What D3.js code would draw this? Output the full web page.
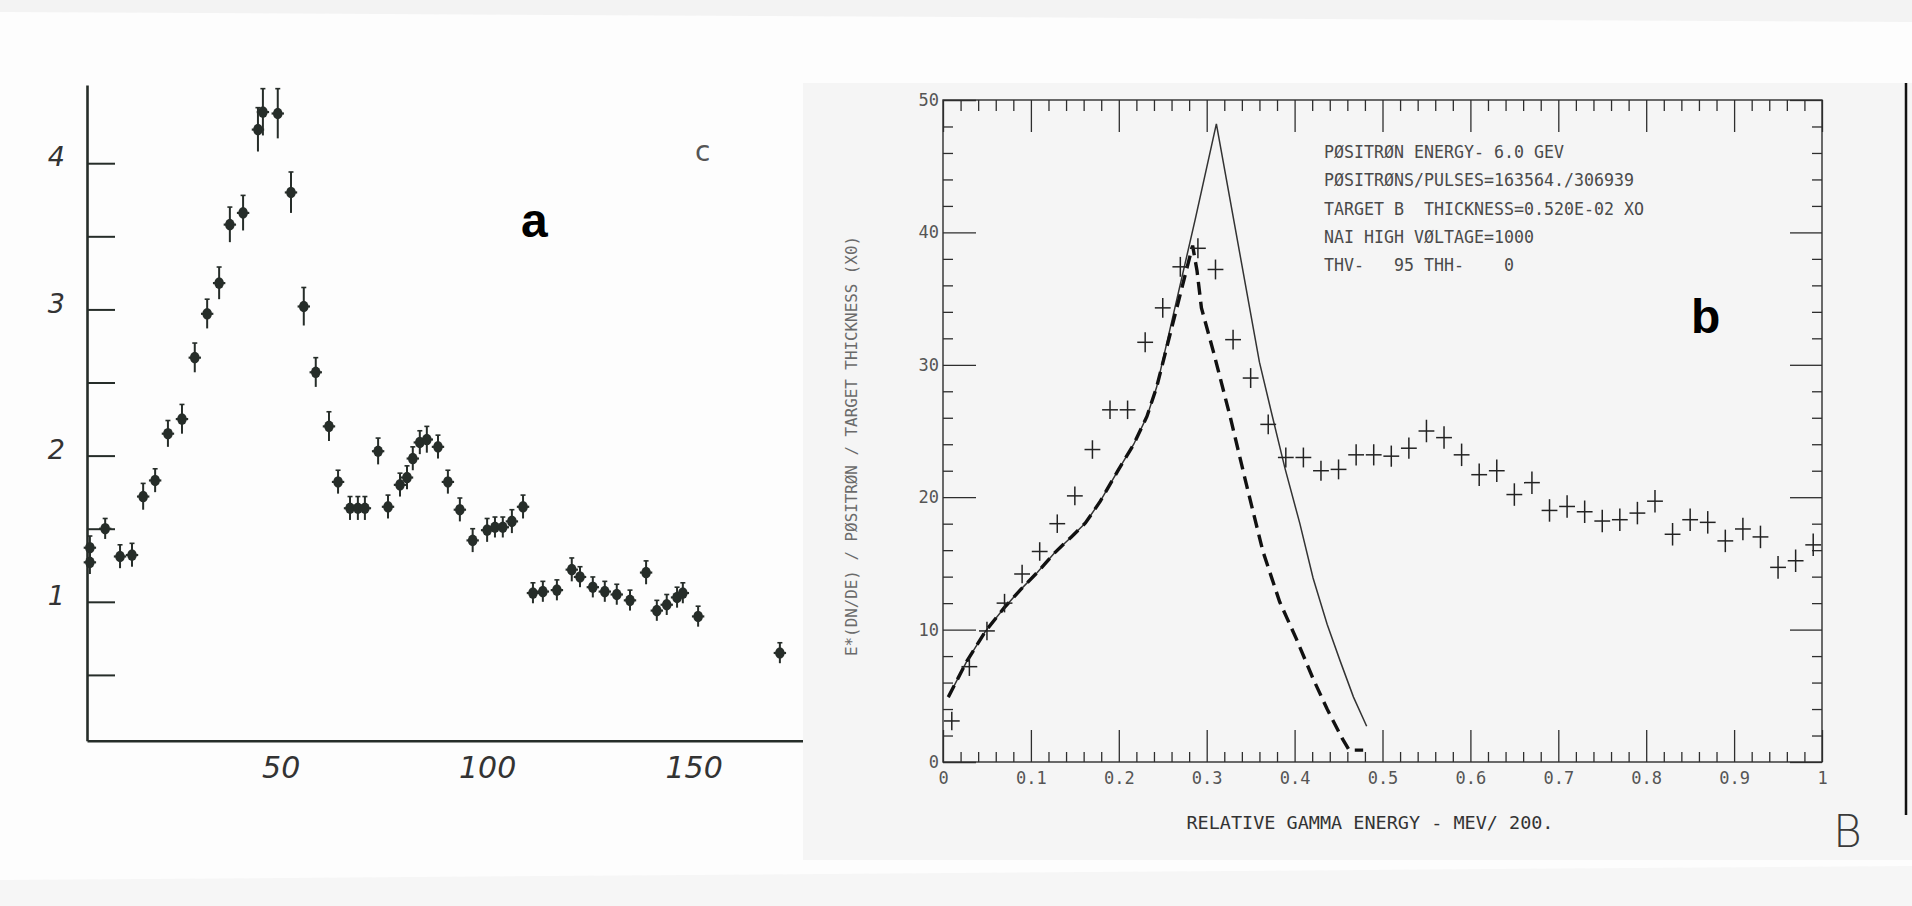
<!DOCTYPE html>
<html>
<head>
<meta charset="utf-8">
<script src="https://cdn.jsdelivr.net/npm/d3@7"></script>
<style>
  body { margin: 0; background: #fdfdfd; }
  svg { display: block; }
</style>
</head>
<body>
<svg id="chart" width="1912" height="906"></svg>
<script>
'use strict'

// panel a : counts vs channel (scanned figure), points with error bars
var aX = [2.7, 2.7, 6.4, 10.0, 12.9, 15.6, 18.5, 21.6, 25.0, 28.1, 31.1, 34.0, 36.6, 39.8, 43.4, 44.6, 48.2, 51.4, 54.5, 57.4,
          60.6, 62.8, 65.7, 67.6, 69.3, 72.5, 74.9, 77.8, 79.5, 80.9, 82.6, 84.3, 87.0, 89.4, 92.3, 95.4, 98.9, 100.8, 102.7, 104.9,
          107.6, 110.0, 112.4, 115.8, 119.4, 121.4, 124.5, 127.4, 130.3, 133.5, 137.4, 140.0, 142.4, 144.9, 146.3, 150.0, 169.8];
var aY = [1.37, 1.27, 1.50, 1.31, 1.32, 1.72, 1.83, 2.15, 2.25, 2.67, 2.97, 3.18, 3.58, 3.66, 4.23, 4.35, 4.34, 3.80, 3.02, 2.57,
          2.20, 1.82, 1.64, 1.64, 1.64, 2.03, 1.65, 1.80, 1.85, 1.98, 2.09, 2.11, 2.06, 1.82, 1.63, 1.42, 1.49, 1.51, 1.51, 1.55,
          1.65, 1.06, 1.07, 1.08, 1.22, 1.17, 1.10, 1.07, 1.05, 1.01, 1.20, 0.94, 0.98, 1.03, 1.06, 0.90, 0.65];
var aErr = [0.08, 0.08, 0.07, 0.08, 0.08, 0.09, 0.08, 0.09, 0.10, 0.10, 0.10, 0.11, 0.12, 0.12, 0.15, 0.16, 0.17, 0.14, 0.13, 0.10,
            0.10, 0.08, 0.08, 0.08, 0.08, 0.09, 0.08, 0.08, 0.08, 0.08, 0.08, 0.09, 0.08, 0.08, 0.08, 0.08, 0.08, 0.07, 0.07, 0.08,
            0.08, 0.07, 0.07, 0.07, 0.08, 0.07, 0.07, 0.07, 0.07, 0.07, 0.08, 0.07, 0.07, 0.07, 0.07, 0.07, 0.07];
var aYTicks = [0.5, 1, 1.5, 2, 2.5, 3, 3.5, 4];
var aYLabels = [1, 2, 3, 4];
var aXLabels = [50, 100, 150];

// panel b : E*(dN/dE) vs relative gamma energy
var bX = [0.01, 0.03, 0.05, 0.07, 0.09, 0.11, 0.13, 0.15, 0.17, 0.19, 0.21, 0.23, 0.25, 0.27, 0.29, 0.31, 0.33, 0.35, 0.37, 0.39,
          0.41, 0.43, 0.45, 0.47, 0.49, 0.51, 0.53, 0.55, 0.57, 0.59, 0.61, 0.63, 0.65, 0.67, 0.69, 0.71, 0.73, 0.75, 0.77, 0.79,
          0.81, 0.83, 0.85, 0.87, 0.89, 0.91, 0.93, 0.95, 0.97, 0.99];
var bY = [3.1, 7.2, 9.9, 12.0, 14.2, 15.9, 18.0, 20.1, 23.6, 26.6, 26.6, 31.7, 34.3, 37.4, 38.8, 37.2, 31.9, 29.0, 25.5, 23.0,
          23.0, 22.0, 22.1, 23.2, 23.2, 23.1, 23.7, 25.0, 24.5, 23.2, 21.7, 22.0, 20.2, 21.1, 19.0, 19.3, 18.9, 18.2, 18.3, 18.8,
          19.7, 17.2, 18.3, 18.1, 16.7, 17.6, 17.0, 14.7, 15.2, 16.4];
var bErr = [0.7, 0.7, 0.7, 0.7, 0.7, 0.7, 0.7, 0.7, 0.7, 0.7, 0.7, 0.75, 0.75, 0.75, 0.75, 0.75, 0.75, 0.75, 0.75, 0.75,
            0.75, 0.75, 0.75, 0.8, 0.8, 0.8, 0.8, 0.85, 0.85, 0.85, 0.85, 0.85, 0.85, 0.85, 0.85, 0.85, 0.85, 0.85, 0.85, 0.85,
            0.85, 0.85, 0.85, 0.85, 0.85, 0.85, 0.85, 0.85, 0.85, 0.85];
var solidX = [0.006, 0.027, 0.048, 0.069, 0.088, 0.107, 0.127, 0.146, 0.162, 0.179, 0.199, 0.217, 0.232, 0.243, 0.287, 0.311,
              0.360, 0.374, 0.389, 0.406, 0.421, 0.437, 0.452, 0.467, 0.482];
var solidY = [4.9, 7.6, 9.85, 11.6, 13.0, 14.3, 15.8, 17.0, 18.05, 19.7, 22.0, 24.0, 26.1, 28.3, 41.0, 48.2,
              30.2, 26.3, 22.2, 18.0, 13.9, 10.4, 7.6, 4.9, 2.7];
var dashX = [0.006, 0.027, 0.048, 0.069, 0.088, 0.107, 0.127, 0.146, 0.162, 0.179, 0.199, 0.217, 0.232, 0.243, 0.284,
             0.289, 0.294, 0.308, 0.327, 0.345, 0.364, 0.383, 0.402, 0.421, 0.437, 0.454, 0.462, 0.478];
var dashY = [4.9, 7.6, 9.85, 11.6, 13.0, 14.3, 15.8, 17.0, 18.05, 19.7, 22.0, 24.0, 26.1, 28.3, 39.0,
             37.1, 34.3, 30.9, 26.0, 21.0, 15.9, 12.1, 9.3, 6.3, 4.0, 1.8, 0.9, 0.9];
var bXMajor = [0, 0.1, 0.2, 0.3, 0.4, 0.5, 0.6, 0.7, 0.8, 0.9, 1];
var bXMinor = [0.02, 0.04, 0.06, 0.08, 0.12, 0.14, 0.16, 0.18, 0.22, 0.24, 0.26, 0.28, 0.32, 0.34, 0.36, 0.38,
               0.42, 0.44, 0.46, 0.48, 0.52, 0.54, 0.56, 0.58, 0.62, 0.64, 0.66, 0.68, 0.72, 0.74, 0.76, 0.78,
               0.82, 0.84, 0.86, 0.88, 0.92, 0.94, 0.96, 0.98];
var bYMajor = [0, 10, 20, 30, 40, 50];
var bYMinor = [2, 4, 6, 8, 12, 14, 16, 18, 22, 24, 26, 28, 32, 34, 36, 38, 42, 44, 46, 48];
var infoLines = [
  'PØSITRØN ENERGY- 6.0 GEV',
  'PØSITRØNS/PULSES=163564./306939',
  'TARGET B  THICKNESS=0.520E-02 XO',
  'NAI HIGH VØLTAGE=1000',
  'THV-   95 THH-    0'
];

var mono = 'DejaVu Sans Mono, monospace';
var svg = d3.select('#chart');

// paper background
svg.append('path').attr('d', 'M0,0H1912V22L0,12Z').attr('fill', '#f3f3f3');
svg.append('path').attr('d', 'M0,880L1912,866V906H0Z').attr('fill', '#f6f6f6');

/* ---------------- panel a ---------------- */
var xA = d3.scaleLinear().domain([2, 175.4]).range([87, 803]);
var yA = d3.scaleLinear().domain([0.05, 4.535]).range([740.7, 85]);
var gA = svg.append('g').attr('class', 'panel-a');
var ink = '#262d29';

var axA = gA.append('g')
  .attr('transform', 'translate(' + xA(2) + ',0)')
  .call(d3.axisLeft(yA)
    .tickValues(aYTicks)
    .tickSize(-28)
    .tickSizeOuter(0)
    .tickPadding(22)
    .tickFormat(function(d){
      return aYLabels.indexOf(d) >= 0 ? d : '';
    }));
axA.select('.domain').attr('stroke', ink).attr('stroke-width', 2.6);
axA.selectAll('.tick line').attr('stroke', ink).attr('stroke-width', 2);
axA.selectAll('.tick text')
  .attr('font-family', 'DejaVu Sans, sans-serif')
  .attr('font-style', 'italic')
  .attr('font-size', 27)
  .attr('fill', '#333')
  .attr('dy', '0.1em');

var axAx = gA.append('g')
  .attr('transform', 'translate(0,' + yA(0.05) + ')')
  .call(d3.axisBottom(xA)
    .tickValues(aXLabels)
    .tickSize(0)
    .tickSizeOuter(0)
    .tickPadding(16));
axAx.select('.domain').attr('stroke', ink).attr('stroke-width', 2.6);
axAx.selectAll('.tick text')
  .attr('font-family', 'DejaVu Sans, sans-serif')
  .attr('font-style', 'italic')
  .attr('font-size', 30)
  .attr('fill', '#333')
  .attr('dx', '-0.15em');

var ptsA = aX.map(function(x, i){
  return { x: x, y: aY[i], e: aErr[i] };
});

var pa = gA.selectAll('g.pt')
  .data(ptsA)
  .enter()
  .append('g')
  .attr('class', 'pt');
pa.append('line')
  .attr('x1', function(d){ return xA(d.x); })
  .attr('x2', function(d){ return xA(d.x); })
  .attr('y1', function(d){ return yA(d.y - d.e); })
  .attr('y2', function(d){ return yA(d.y + d.e); })
  .attr('stroke', ink)
  .attr('stroke-width', 2);
pa.append('line')
  .attr('x1', function(d){ return xA(d.x) - 2.5; })
  .attr('x2', function(d){ return xA(d.x) + 2.5; })
  .attr('y1', function(d){ return yA(d.y + d.e); })
  .attr('y2', function(d){ return yA(d.y + d.e); })
  .attr('stroke', ink)
  .attr('stroke-width', 1.6);
pa.append('line')
  .attr('x1', function(d){ return xA(d.x - 1.5); })
  .attr('x2', function(d){ return xA(d.x + 1.5); })
  .attr('y1', function(d){ return yA(d.y); })
  .attr('y2', function(d){ return yA(d.y); })
  .attr('stroke', ink)
  .attr('stroke-width', 2.2);
pa.append('ellipse')
  .attr('cx', function(d){ return xA(d.x); })
  .attr('cy', function(d){ return yA(d.y); })
  .attr('rx', 4.8)
  .attr('ry', 5.8)
  .attr('fill', ink);

gA.append('text')
  .attr('x', 521).attr('y', 237)
  .attr('font-family', 'Liberation Sans, Arial, sans-serif')
  .attr('font-weight', 'bold')
  .attr('font-size', 48)
  .attr('fill', '#000')
  .text('a');
gA.append('text')
  .attr('x', 695).attr('y', 161)
  .attr('font-family', 'DejaVu Sans, sans-serif')
  .attr('font-size', 28)
  .attr('fill', '#555')
  .text('c');

/* ---------------- panel b ---------------- */
var xB = d3.scaleLinear().domain([0, 1]).range([943, 1822]);
var yB = d3.scaleLinear().domain([0, 50]).range([762, 100]);
var gB = svg.append('g').attr('class', 'panel-b');
var pen = '#2e2e2e';

gB.append('rect')
  .attr('x', 803).attr('y', 83)
  .attr('width', 1109).attr('height', 777)
  .attr('fill', '#f5f5f5');

function styleB(g){
  g.select('.domain').remove();
  g.selectAll('.tick line').attr('stroke', pen).attr('stroke-width', 1.3);
  g.selectAll('.tick text')
    .attr('font-family', mono)
    .attr('font-size', 17)
    .attr('fill', '#555');
}

var fmtB = function(d){
  if( d == 0 ) return '0';
  if( d == 1 ) return '1';
  return d.toFixed(1);
};

gB.append('g').attr('transform', 'translate(0,' + yB(0) + ')')
  .call(d3.axisBottom(xB).tickValues(bXMajor).tickSize(-32).tickSizeOuter(0).tickPadding(10).tickFormat(fmtB))
  .call(styleB);
gB.append('g').attr('transform', 'translate(0,' + yB(0) + ')')
  .call(d3.axisBottom(xB).tickValues(bXMinor).tickSize(-10).tickSizeOuter(0).tickFormat(''))
  .call(styleB);
gB.append('g').attr('transform', 'translate(0,' + yB(50) + ')')
  .call(d3.axisTop(xB).tickValues(bXMajor).tickSize(-32).tickSizeOuter(0).tickFormat(''))
  .call(styleB);
gB.append('g').attr('transform', 'translate(0,' + yB(50) + ')')
  .call(d3.axisTop(xB).tickValues(bXMinor).tickSize(-11).tickSizeOuter(0).tickFormat(''))
  .call(styleB);
gB.append('g').attr('transform', 'translate(' + xB(0) + ',0)')
  .call(d3.axisLeft(yB).tickValues(bYMajor).tickSize(-33).tickSizeOuter(0).tickPadding(4))
  .call(styleB);
gB.append('g').attr('transform', 'translate(' + xB(0) + ',0)')
  .call(d3.axisLeft(yB).tickValues(bYMinor).tickSize(-10).tickSizeOuter(0).tickFormat(''))
  .call(styleB);
gB.append('g').attr('transform', 'translate(' + xB(1) + ',0)')
  .call(d3.axisRight(yB).tickValues(bYMajor).tickSize(-32).tickSizeOuter(0).tickFormat(''))
  .call(styleB);
gB.append('g').attr('transform', 'translate(' + xB(1) + ',0)')
  .call(d3.axisRight(yB).tickValues(bYMinor).tickSize(-10).tickSizeOuter(0).tickFormat(''))
  .call(styleB);

gB.append('rect')
  .attr('x', xB(0)).attr('y', yB(50))
  .attr('width', xB(1) - xB(0)).attr('height', yB(0) - yB(50))
  .attr('fill', 'none')
  .attr('stroke', pen)
  .attr('stroke-width', 1.4);

var line = d3.line()
  .x(function(d){ return xB(d[0]); })
  .y(function(d){ return yB(d[1]); });

gB.append('path')
  .datum(solidX.map(function(x, i){ return [x, solidY[i]]; }))
  .attr('d', line)
  .attr('fill', 'none')
  .attr('stroke', '#333')
  .attr('stroke-width', 1.5);
gB.append('path')
  .datum(dashX.map(function(x, i){ return [x, dashY[i]]; }))
  .attr('d', line)
  .attr('fill', 'none')
  .attr('stroke', '#111')
  .attr('stroke-width', 3.4)
  .attr('stroke-dasharray', '13,7');

var ptsB = bX.map(function(x, i){
  return { x: x, y: bY[i], e: bErr[i] };
});
var cross = gB.selectAll('g.cross')
  .data(ptsB)
  .enter()
  .append('g')
  .attr('class', 'cross');
cross.append('line')
  .attr('x1', function(d){ return xB(d.x - 0.009); })
  .attr('x2', function(d){ return xB(d.x + 0.009); })
  .attr('y1', function(d){ return yB(d.y); })
  .attr('y2', function(d){ return yB(d.y); })
  .attr('stroke', '#222')
  .attr('stroke-width', 1.5);
cross.append('line')
  .attr('x1', function(d){ return xB(d.x); })
  .attr('x2', function(d){ return xB(d.x); })
  .attr('y1', function(d){ return yB(d.y - d.e); })
  .attr('y2', function(d){ return yB(d.y + d.e); })
  .attr('stroke', '#222')
  .attr('stroke-width', 1.5);

// run information block, plotter style
gB.selectAll('text.info')
  .data(infoLines)
  .enter()
  .append('text')
  .attr('class', 'info')
  .attr('x', 1324)
  .attr('y', function(d, i){ return 158 + i * 28.3; })
  .attr('font-family', mono)
  .attr('font-size', 17)
  .attr('fill', '#4a4a4a')
  .attr('textLength', function(d){ return d.length * 10; })
  .attr('lengthAdjust', 'spacingAndGlyphs')
  .style('white-space', 'pre')
  .text(function(d){ return d; });

gB.append('text')
  .attr('x', 1370)
  .attr('y', 829)
  .attr('text-anchor', 'middle')
  .attr('font-family', mono)
  .attr('font-size', 18.4)
  .attr('fill', '#333')
  .attr('textLength', 367)
  .attr('lengthAdjust', 'spacingAndGlyphs')
  .text('RELATIVE GAMMA ENERGY - MEV/ 200.');

gB.append('text')
  .attr('transform', 'translate(857,446) rotate(-90)')
  .attr('text-anchor', 'middle')
  .attr('font-family', mono)
  .attr('font-size', 16)
  .attr('fill', '#6a6a6a')
  .attr('textLength', 420)
  .attr('lengthAdjust', 'spacingAndGlyphs')
  .text('E*(DN/DE) / PØSITRØN / TARGET THICKNESS (X0)');

gB.append('text')
  .attr('x', 1691).attr('y', 333)
  .attr('font-family', 'Liberation Sans, Arial, sans-serif')
  .attr('font-weight', 'bold')
  .attr('font-size', 48)
  .attr('fill', '#000')
  .text('b');

gB.append('text')
  .attr('x', 1833).attr('y', 847)
  .attr('font-family', 'DejaVu Sans, sans-serif')
  .attr('font-size', 44)
  .attr('font-weight', 200)
  .attr('fill', '#3a3a3a')
  .text('B');

gB.append('line')
  .attr('x1', 1906).attr('x2', 1906)
  .attr('y1', 83).attr('y2', 815)
  .attr('stroke', '#111')
  .attr('stroke-width', 2.5);
</script>
</body>
</html>
